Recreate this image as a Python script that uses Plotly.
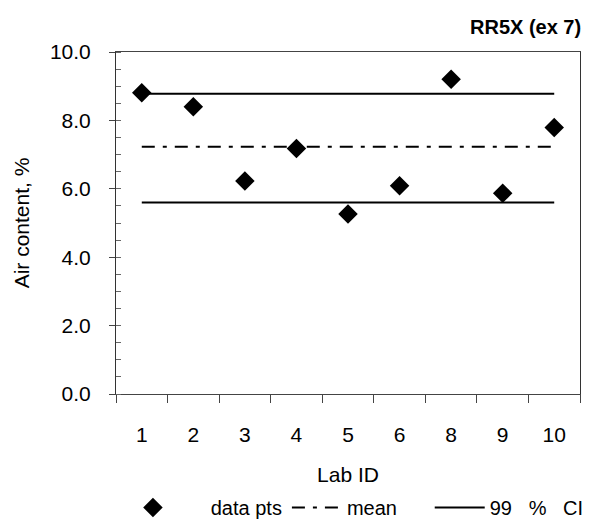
import plotly.graph_objects as go

lab_ids = ["1", "2", "3", "4", "5", "6", "8", "9", "10"]
air_content = [8.81, 8.40, 6.23, 7.18, 5.26, 6.09, 9.20, 5.87, 7.79]
mean_value = 7.23
ci_upper = 8.78
ci_lower = 5.60
y_ticks = [0.0, 2.0, 4.0, 6.0, 8.0, 10.0]
y_tick_labels = ["0.0", "2.0", "4.0", "6.0", "8.0", "10.0"]

FONT = "Liberation Sans, Arial, sans-serif"
NB = "\u00a0"
fig = go.Figure()

fig.add_trace(go.Scatter(
    x=lab_ids, y=air_content, mode="markers", name=NB * 5 + "data pts",
    marker=dict(symbol="diamond", size=15, color="black"),
))
line_x = [lab_ids[0], lab_ids[-1]]
fig.add_trace(go.Scatter(
    x=line_x, y=[mean_value, mean_value], mode="lines", name="mean" + NB * 5,
    line=dict(color="black", width=2, dash="13px,8px,4px,8px"),
))
fig.add_trace(go.Scatter(
    x=line_x, y=[ci_upper, ci_upper], mode="lines", name="99" + NB * 3 + "%" + NB * 3 + "CI",
    legendgroup="ci", line=dict(color="black", width=2),
))
fig.add_trace(go.Scatter(
    x=line_x, y=[ci_lower, ci_lower], mode="lines", name="99 % CI",
    legendgroup="ci", showlegend=False, line=dict(color="black", width=2),
))

fig.update_layout(
    width=589, height=527,
    margin=dict(l=116, r=9, t=52, b=133),
    paper_bgcolor="white", plot_bgcolor="white",
    font=dict(family=FONT, size=21, color="black"),
    xaxis=dict(
        type="category", range=[-0.5, 8.5], tickson="boundaries", automargin=False,
        ticks="outside", ticklen=8, tickcolor="#444", tickwidth=1,
        showline=True, linecolor="#444", linewidth=1, mirror=True,
        showgrid=False, zeroline=False, ticklabelstandoff=22,
        title=dict(text="Lab ID", standoff=22, font=dict(size=21)),
        tickfont=dict(size=21),
    ),
    yaxis=dict(
        range=[0, 10], tickvals=y_ticks, ticktext=y_tick_labels, automargin=False,
        ticks="outside", ticklen=6, tickcolor="#444", tickwidth=1,
        minor=dict(dtick=0.5, ticks="inside", ticklen=5, tickcolor="#666"),
        showline=True, linecolor="#333", linewidth=1, mirror=True,
        showgrid=False, zeroline=False, ticklabelstandoff=14,
        title=dict(text="Air content, %", standoff=14, font=dict(size=21)),
        tickfont=dict(size=21),
    ),
    showlegend=True,
    legend=dict(orientation="h", x=0.015, xanchor="left", yref="container", y=0.0, yanchor="bottom",
                font=dict(size=20), bgcolor="rgba(0,0,0,0)", itemwidth=50,
                traceorder="normal"),
    annotations=[dict(text="<b>RR5X (ex 7)</b>", xref="paper", yref="paper",
                      x=1.0, y=1.0, xanchor="right", yanchor="bottom", yshift=12, xshift=3,
                      showarrow=False, font=dict(family=FONT, size=20, color="black"))],
)

fig.write_html("out.html", config={"displayModeBar": False},
               post_script="document.body.style.margin='0';")
